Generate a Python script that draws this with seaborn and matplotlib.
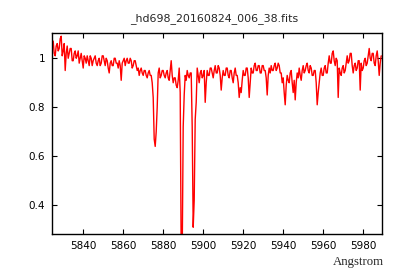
import numpy as np
import pandas as pd
import seaborn as sns
import matplotlib
matplotlib.use('Agg')
import matplotlib.pyplot as plt

# spectrum, 0.5 Angstrom steps from 5825 to 5989
wave = np.arange(5825, 5989.1, 0.5)
flux = [
    # 5825 - 5834.5
    1.07, 1.02, 1.01, 1.05, 1.06, 1.03, 1.04, 1.08, 1.09, 1.01,
    1.03, 1.06, 0.95, 1.02, 1.05, 1.00, 1.02, 1.04, 1.04, 0.99,
    # 5835 - 5844.5
    0.99, 1.02, 1.03, 1.00, 1.01, 1.03, 0.98, 1.00, 1.02, 0.99,
    0.96, 1.01, 1.00, 0.98, 1.01, 0.99, 0.97, 1.01, 1.00, 0.97,
    # 5845 - 5854.5
    0.99, 1.00, 1.01, 0.98, 0.97, 0.99, 1.00, 0.97, 0.98, 1.01,
    1.01, 0.99, 0.97, 1.00, 0.99, 0.96, 0.94, 0.98, 0.99, 0.97,
    # 5855 - 5864.5
    0.97, 1.00, 1.00, 0.98, 0.98, 0.96, 0.99, 0.97, 0.91, 0.98,
    0.99, 1.00, 0.97, 0.99, 1.00, 0.98, 0.98, 1.00, 0.99, 0.96,
    # 5865 - 5874.5
    0.97, 0.99, 0.99, 0.97, 0.95, 0.96, 0.93, 0.95, 0.96, 0.94,
    0.93, 0.95, 0.95, 0.93, 0.92, 0.94, 0.95, 0.93, 0.93, 0.90,
    # 5875 - 5884.5
    0.84, 0.67, 0.64, 0.70, 0.80, 0.94, 0.96, 0.92, 0.93, 0.95,
    0.95, 0.93, 0.92, 0.94, 0.95, 0.92, 0.91, 0.95, 0.99, 0.93,
    # 5885 - 5894.5
    0.90, 0.92, 0.92, 0.89, 0.88, 0.91, 0.96, 0.86, 0.20, 0.20,
    0.72, 0.85, 0.93, 0.91, 0.95, 0.93, 0.92, 0.94, 0.94, 0.72,
    # 5895 - 5904.5
    0.31, 0.42, 0.75, 0.82, 0.96, 0.93, 0.90, 0.94, 0.95, 0.92,
    0.93, 0.95, 0.82, 0.90, 0.95, 0.93, 0.93, 0.96, 0.96, 0.94,
    # 5905 - 5914.5
    0.92, 0.95, 0.97, 0.94, 0.94, 0.97, 0.96, 0.93, 0.87, 0.92,
    0.95, 0.93, 0.93, 0.96, 0.96, 0.93, 0.92, 0.95, 0.95, 0.92,
    # 5915 - 5924.5
    0.90, 0.94, 0.96, 0.93, 0.93, 0.90, 0.84, 0.88, 0.86, 0.91,
    0.95, 0.93, 0.93, 0.96, 0.96, 0.92, 0.84, 0.90, 0.96, 0.94,
    # 5925 - 5934.5
    0.94, 0.97, 0.98, 0.95, 0.95, 0.97, 0.97, 0.94, 0.94, 0.97,
    0.97, 0.95, 0.95, 0.92, 0.85, 0.93, 0.96, 0.94, 0.97, 0.95,
    # 5935 - 5944.5
    0.95, 0.97, 0.98, 0.95, 0.96, 0.98, 0.97, 0.94, 0.94, 0.90,
    0.92, 0.86, 0.81, 0.89, 0.93, 0.91, 0.90, 0.94, 0.95, 0.90,
    # 5945 - 5954.5
    0.86, 0.91, 0.83, 0.90, 0.94, 0.92, 0.96, 0.93, 0.91, 0.95,
    0.97, 0.94, 0.95, 0.97, 0.98, 0.95, 0.94, 0.97, 0.96, 0.93,
    # 5955 - 5964.5
    0.93, 0.95, 0.95, 0.90, 0.81, 0.86, 0.90, 0.94, 0.96, 0.93,
    0.93, 0.96, 0.97, 0.94, 0.94, 0.98, 1.01, 0.98, 0.98, 1.02,
    # 5965 - 5974.5
    1.03, 0.99, 0.97, 1.00, 0.99, 0.84, 0.96, 0.94, 0.93, 0.96,
    0.97, 0.94, 0.95, 0.98, 1.01, 0.98, 0.99, 1.02, 1.02, 0.97,
    # 5975 - 5984.5
    0.94, 0.97, 0.98, 0.95, 0.96, 0.99, 0.99, 0.87, 0.98, 0.95,
    0.96, 0.99, 1.00, 0.97, 0.98, 1.01, 1.04, 1.00, 0.99, 1.02,
    # 5985 - 5989
    1.02, 0.98, 0.97, 1.01, 1.03, 0.99, 0.93, 0.98, 1.01,
]

xticks = [5840, 5860, 5880, 5900, 5920, 5940, 5960, 5980]
yticks = [0.4, 0.6, 0.8, 1.0]
ylabels = ['0.4', '0.6', '0.8', '1']

sns.set_style('ticks')
plt.rcParams['font.family'] = ['DejaVu Sans']

df = pd.DataFrame({'wave': wave, 'flux': flux})

fig = plt.figure(figsize=(4, 2.8), dpi=100)
ax = fig.add_axes([0.13, 0.164, 0.824, 0.718])
sns.lineplot(data=df, x='wave', y='flux', color='red', lw=1.0,
             estimator=None, sort=False, ax=ax)

ax.set_xlim(5824.4, 5989.2)
ax.set_ylim(0.282, 1.103)
ax.set_xticks(xticks)
ax.set_xticklabels([str(t) for t in xticks])
ax.set_yticks(yticks)
ax.set_yticklabels(ylabels)
ax.tick_params(direction='in', length=3.5, width=0.8, top=True, right=True,
               labelsize=7.5, colors='black', pad=5)
for s in ax.spines.values():
    s.set_linewidth(1)
    s.set_color('black')
ax.set_xlabel('')
ax.set_ylabel('')

fig.text(0.535, 0.934, '_hd698_20160824_006_38.fits', ha='center', va='center',
         fontsize=7.9)
fig.text(0.96, 0.064, 'Angstrom', ha='right', va='center', fontsize=9.2,
         family=['Liberation Serif'])

fig.savefig('out.png', dpi=100)
